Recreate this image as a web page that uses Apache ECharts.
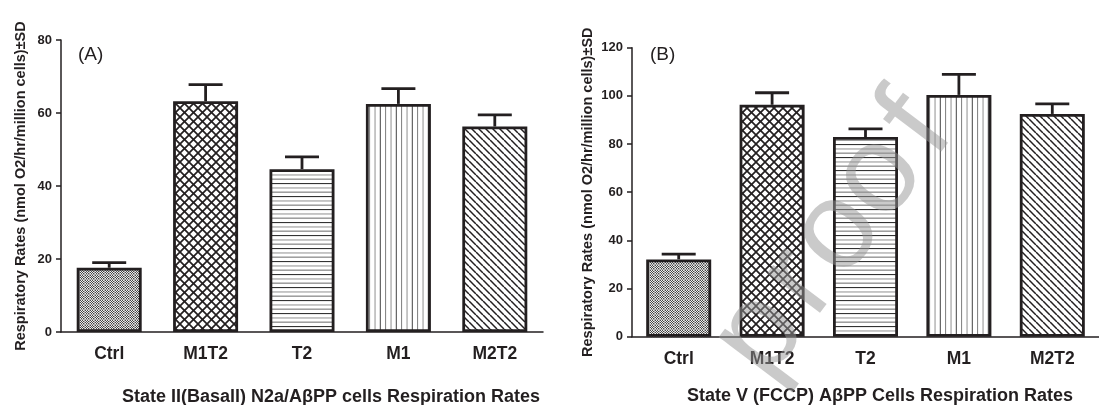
<!DOCTYPE html>
<html>
<head>
<meta charset="utf-8">
<script src="https://cdn.jsdelivr.net/npm/echarts@6/dist/echarts.min.js"></script>
<style>html,body{margin:0;padding:0;background:#fff}#c{width:1099px;height:405px}</style>
</head>
<body>
<div id="c"></div>
<script>
const categories = ['Ctrl', 'M1T2', 'T2', 'M1', 'M2T2'];
const valuesA = [17.6, 63.2, 44.6, 62.5, 56.3];
const sdA = [1.4, 4.6, 3.4, 4.2, 3.2];
const valuesB = [32.1, 96.3, 82.9, 100.4, 92.5];
const sdB = [2.2, 5.0, 3.4, 8.5, 4.2];
const yMaxA = 80, yMaxB = 120, yStep = 20;
const yTitle = 'Respiratory Rates (nmol O2/hr/million cells)\u00B1SD';
const xTitleA = 'State II(Basall) N2a/A\u03B2PP cells Respiration Rates';
const xTitleB = 'State V (FCCP) A\u03B2PP Cells Respiration Rates';
const panelA = '(A)', panelB = '(B)';
const watermark = ['p', 'r', 'o', 'o', 'f'];

const INK = '#231f20';
const FONT = '"Liberation Sans", Arial, sans-serif';

function mk(w, h, draw) {
  const c = document.createElement('canvas');
  c.width = w; c.height = h;
  const g = c.getContext('2d');
  g.fillStyle = '#fff'; g.fillRect(0, 0, w, h);
  draw(g, w, h);
  return { image: c, repeat: 'repeat' };
}
const patterns = [
  // Ctrl: fine checker with grey grid
  mk(5, 5, (g) => {
    for (let y = 0; y < 4; y++) for (let x = 0; x < 4; x++) {
      if ((x + y) % 2 === 0) { g.fillStyle = '#444'; g.fillRect(x, y, 1, 1); }
      else { g.fillStyle = '#eee'; g.fillRect(x, y, 1, 1); }
    }
    g.fillStyle = '#aaa';
    g.fillRect(0, 4, 5, 1); g.fillRect(4, 0, 1, 5);
  }),
  // M1T2: cross hatch
  mk(9, 9, (g) => {
    g.strokeStyle = INK; g.lineWidth = 1.7;
    for (const k of [-9, 0, 9]) {
      g.beginPath(); g.moveTo(k, 0); g.lineTo(k + 9, 9); g.stroke();
      g.beginPath(); g.moveTo(k + 9, 0); g.lineTo(k, 9); g.stroke();
    }
  }),
  // T2: horizontal lines
  mk(4, 13, (g) => {
    g.fillStyle = '#333'; g.fillRect(0, 1, 4, 1.1);
    g.fillStyle = '#aaa'; g.fillRect(0, 5.3, 4, 1.3);
    g.fillStyle = '#777'; g.fillRect(0, 9.6, 4, 1.1);
  }),
  // M1: vertical lines
  mk(16, 4, (g) => {
    g.fillStyle = '#888'; g.fillRect(1, 0, 1.1, 4);
    g.fillStyle = '#aaa'; g.fillRect(6.4, 0, 1.3, 4);
    g.fillStyle = '#444'; g.fillRect(11.8, 0, 1.0, 4);
  }),
  // M2T2: backslash diagonals
  mk(7, 7, (g) => {
    g.strokeStyle = INK; g.lineWidth = 1.5;
    for (const k of [-7, 0, 7]) {
      g.beginPath(); g.moveTo(k, 0); g.lineTo(k + 7, 7); g.stroke();
    }
  })
];

function barData(vals) {
  return vals.map((v, i) => ({ value: v, itemStyle: { color: patterns[i] } }));
}
function errData(vals, sds) {
  return vals.map((v, i) => [i, v, sds[i]]);
}
function errItem(params, api) {
  const x = api.value(0), v = api.value(1), e = api.value(2);
  const p0 = api.coord([x, v]);
  const p1 = api.coord([x, v + e]);
  const half = 17;
  const st = { stroke: INK, lineWidth: 2.8 };
  return {
    type: 'group',
    children: [
      { type: 'line', shape: { x1: p0[0], y1: p0[1], x2: p1[0], y2: p1[1] }, style: st },
      { type: 'line', shape: { x1: p1[0] - half, y1: p1[1], x2: p1[0] + half, y2: p1[1] }, style: st }
    ]
  };
}
function xAxis(gi) {
  return {
    type: 'category', gridIndex: gi, data: categories,
    axisLine: { lineStyle: { color: INK, width: 1.5 } },
    axisTick: { show: false },
    axisLabel: { color: INK, fontWeight: 'bold', fontSize: 17.5, fontFamily: FONT, margin: 13 }
  };
}
function yAxis(gi, max, gap) {
  return {
    type: 'value', gridIndex: gi, min: 0, max: max, interval: yStep,
    name: yTitle, nameLocation: 'middle', nameGap: gap,
    nameTextStyle: { color: INK, fontWeight: 'bold', fontSize: 14.5, fontFamily: FONT },
    axisLine: { show: true, lineStyle: { color: INK, width: 1.5 } },
    axisTick: { show: true, length: 5, lineStyle: { color: INK, width: 1.5 } },
    axisLabel: { color: INK, fontWeight: 'bold', fontSize: 13, fontFamily: FONT, margin: 9 },
    splitLine: { show: false }
  };
}
function barSeries(gi, vals) {
  return {
    type: 'bar', xAxisIndex: gi, yAxisIndex: gi, data: barData(vals), barWidth: 65,
    itemStyle: { borderColor: INK, borderWidth: 2.8 }, silent: true, animation: false
  };
}
function errSeries(gi, vals, sds) {
  return {
    type: 'custom', xAxisIndex: gi, yAxisIndex: gi, data: errData(vals, sds),
    renderItem: errItem, encode: { x: 0, y: 1 }, z: 3, silent: true, animation: false
  };
}

const wmStart = [760, 335], wmAng = 53 * Math.PI / 180, wmStep = [0, 66, 128, 198, 262];
const wmGraphics = watermark.map((ch, i) => ({
  type: 'text', z: 100,
  x: wmStart[0] + Math.cos(wmAng) * wmStep[i],
  y: wmStart[1] - Math.sin(wmAng) * wmStep[i],
  rotation: wmAng,
  style: { text: ch, fill: 'rgba(150,150,150,0.5)', font: '125px ' + FONT, align: 'center', verticalAlign: 'middle' }
}));

const chart = echarts.init(document.getElementById('c'), null, { renderer: 'canvas' });
chart.setOption({
  animation: false,
  backgroundColor: '#fff',
  grid: [
    { left: 61, width: 482, top: 40, height: 292 },
    { left: 632, width: 480, top: 47.7, height: 289 }
  ],
  xAxis: [xAxis(0), xAxis(1)],
  yAxis: [yAxis(0, yMaxA, 33), yAxis(1, yMaxB, 37)],
  series: [
    barSeries(0, valuesA), errSeries(0, valuesA, sdA),
    barSeries(1, valuesB), errSeries(1, valuesB, sdB)
  ],
  graphic: [
    { type: 'text', x: 331, y: 397, style: { text: xTitleA, fill: INK, font: 'bold 18px ' + FONT, align: 'center', verticalAlign: 'middle' } },
    { type: 'text', x: 880, y: 396, style: { text: xTitleB, fill: INK, font: 'bold 18px ' + FONT, align: 'center', verticalAlign: 'middle' } },
    { type: 'text', x: 78, y: 55, style: { text: panelA, fill: INK, font: '19px ' + FONT, align: 'left', verticalAlign: 'middle' } },
    { type: 'text', x: 650, y: 55, style: { text: panelB, fill: INK, font: '19px ' + FONT, align: 'left', verticalAlign: 'middle' } }
  ].concat(wmGraphics)
});
</script>
</body>
</html>
